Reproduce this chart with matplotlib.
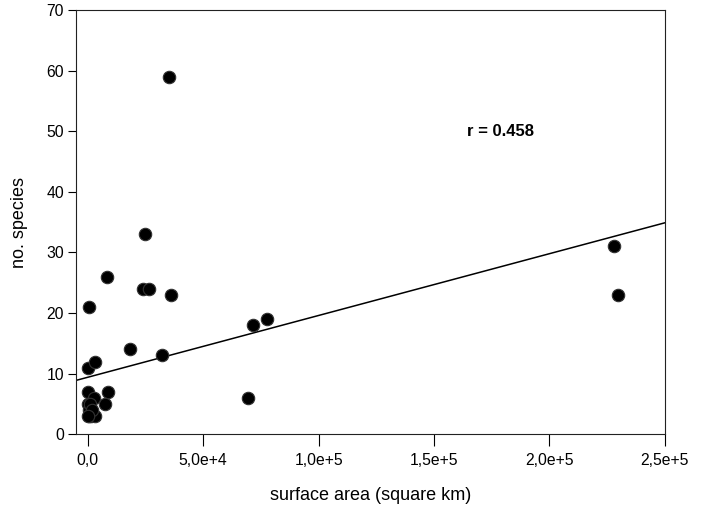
import matplotlib

matplotlib.use("Agg")
import matplotlib.pyplot as plt
import numpy as np
from matplotlib.ticker import FuncFormatter

plt.rcParams["font.family"] = ["Liberation Sans", "DejaVu Sans"]

# surface area (square km) vs number of species
area = [
    35300, 24600, 400, 8200, 23700, 26300, 36200, 18100, 32300,
    71500, 77600, 69400, 228000, 229800,
    200, 3000, 8600, 7300, 0, 2600,
    0, 300, 500, 1500, 3000, 1000, 2000, 0,
]
species = [
    59, 33, 21, 26, 24, 24, 23, 14, 13,
    18, 19, 6, 31, 23,
    11, 12, 7, 5, 7, 6,
    5, 4, 3, 3, 3, 5, 4, 3,
]
# regression line as drawn in the original
line_intercept = 9.4
line_slope = 1.02e-4
r_label = "r = 0.458"

x_ticks = [0, 5e4, 1e5, 1.5e5, 2e5, 2.5e5]
y_ticks = [0, 10, 20, 30, 40, 50, 60, 70]


def comma_sci(v, pos):
    if v == 0:
        return "0,0"
    exp = int(np.floor(np.log10(abs(v))))
    mant = v / 10 ** exp
    return f"{mant:.1f}".replace(".", ",") + f"e+{exp}"


fig = plt.figure(figsize=(7.02, 5.12), dpi=100, facecolor="white")
ax = fig.add_axes([0.108, 0.152, 0.839, 0.828])

x_lo, x_hi = -5200, 2.5e5
xs = np.array([x_lo, x_hi])
ax.plot(xs, line_intercept + line_slope * xs, color="black", lw=1.1, zorder=2)

ax.scatter(area, species, s=80, color="black", edgecolors="#333333",
           linewidths=0.8, zorder=3, clip_on=False)

ax.text(1.79e5, 50, r_label, fontsize=12, fontweight="bold",
        ha="center", va="center")

ax.set_xlim(x_lo, x_hi)
ax.set_ylim(0, 70)
ax.set_xticks(x_ticks)
ax.set_yticks(y_ticks)
ax.xaxis.set_major_formatter(FuncFormatter(comma_sci))
ax.tick_params(axis="x", direction="out", length=8.4, width=0.8,
               labelsize=11.3, pad=5)
ax.tick_params(axis="y", direction="out", length=5.5, width=0.8,
               labelsize=11.3, pad=3)
for sp in ax.spines.values():
    sp.set_linewidth(0.8)
    sp.set_color("#222222")

ax.set_xlabel("surface area (square km)", fontsize=13, labelpad=14)
ax.set_ylabel("no. species", fontsize=13, labelpad=13)

fig.savefig("out.png", dpi=100, facecolor="white")
